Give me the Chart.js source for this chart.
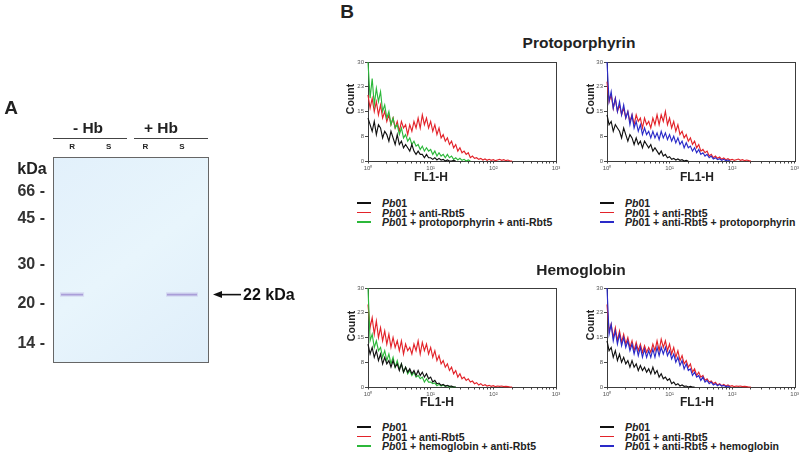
<!DOCTYPE html>
<html>
<head>
<meta charset="utf-8">
<script src="https://cdn.jsdelivr.net/npm/chart.js@4.4.1/dist/chart.umd.min.js"></script>
<style>
  html, body { margin: 0; padding: 0; background: #fff; width: 800px; height: 461px; overflow: hidden; }
  body { position: relative; font-family: "Liberation Sans", Arial, sans-serif; color: #222; }
  canvas { position: absolute; }
  .lbl { position: absolute; white-space: nowrap; font-weight: bold; line-height: 1; transform: translate(-50%, -50%); }
  .legend { position: absolute; font-weight: bold; font-size: 10.5px; }
  .legend div { display: flex; align-items: center; height: 9.7px; white-space: nowrap; }
  .legend .sw { display: inline-block; width: 14px; height: 1.5px; margin-right: 11px; }
  .hdr { position: absolute; border-top: 1.5px solid #444; height: 0; }
</style>
</head>
<body>
<canvas id="gel" width="320" height="260" style="left:0;top:120px"></canvas>
<canvas id="tl" width="225" height="120" style="left:340px;top:52px"></canvas>
<canvas id="tr" width="221" height="120" style="left:579px;top:52px"></canvas>
<canvas id="bl" width="225" height="120" style="left:340px;top:278px"></canvas>
<canvas id="br" width="221" height="120" style="left:579px;top:278px"></canvas>
<div class="hdr" style="left:53px;top:138px;width:74px"></div>
<div class="hdr" style="left:134px;top:138px;width:74px"></div>
<script>
// ---- panel A: gel ----
const laneIdx = [0, 1, 2, 3];
const laneLabels = ['R', 'S', 'R', 'S'];
const groupLabels = ['- Hb', '+ Hb'];
const markerKda = ['66', '45', '30', '20', '14'];
const markerRf = [0.170, 0.298, 0.523, 0.714, 0.909];
const bandLanes = [0, 3];
const bandRf = 0.670;
const bandLabel = '22 kDa';

// ---- panel B: FL1-H histograms ----
const panelTitles = ['Protoporphyrin', 'Hemoglobin'];
const fl1Bins = [1.000, 1.080, 1.166, 1.259, 1.359, 1.468, 1.585, 1.711, 1.848, 1.995,
  2.154, 2.326, 2.512, 2.712, 2.929, 3.162, 3.415, 3.687, 3.981, 4.299,
  4.642, 5.012, 5.412, 5.843, 6.310, 6.813, 7.356, 7.943, 8.577, 9.261,
  10.00, 10.80, 11.66, 12.59, 13.59, 14.68, 15.85, 17.11, 18.48, 19.95,
  21.54, 23.26, 25.12, 27.12, 29.29, 31.62, 34.15, 36.87, 39.81, 42.99,
  46.42, 50.12, 54.12, 58.43, 63.10, 68.13, 73.56, 79.43, 85.77, 92.61,
  100.0, 108.0, 116.6, 125.9, 135.9, 146.8, 158.5, 171.1, 184.8, 199.5];
const yTickVals = [0, 7.5, 15, 22.5, 30];
const yTickLabels = ['0', '8', '15', '23', '30'];
const xTickVals = [1, 10, 100, 1000];
const xTickLabels = ['10⁰', '10¹', '10²', '10³'];

// protoporphyrin, left
const tlBlack = [13, 11, 9, 12, 8, 11, 10, 7, 9, 8,
  6, 9, 7, 5, 8, 5, 6, 4, 5, 4,
  3, 5, 3, 2, 3, 2, 2, 1, 2, 1,
  1, 0.5, 1, 0.3, 0.8, 0.3, 0.5, 0, 0.3, 0,
  0, 0.2, 0];
const tlRed = [20, 16, 19, 15, 18, 14, 17, 13, 15, 12,
  14, 11, 13, 10, 12, 9, 12, 10, 11, 8,
  11, 9, 12, 10, 13, 10, 14, 11, 13, 10,
  12, 9, 11, 8, 10, 7, 8, 6, 7, 5,
  6, 4, 5, 3, 4, 2.5, 3, 2, 2.5, 1,
  1.5, 0.8, 1, 0.5, 0.8, 0.3, 0.6, 0.2, 0.5, 0.2,
  0.4, 0.1, 0.3, 0.5, 0.2, 0.4, 0.1, 0.3, 0, 0];
const tlGreen = [30, 19, 25, 17, 22, 18, 21, 15, 17, 13,
  15, 11, 13, 10, 11, 8, 10, 7, 8, 6,
  7, 5, 6, 4.5, 5, 3.5, 4.5, 3, 4, 3,
  3.5, 2, 3, 1.5, 2.5, 1.5, 2, 1, 2, 1,
  1.5, 0.5, 1, 0.3, 0.8, 0.2, 0.5, 0, 0.3, 0];

// protoporphyrin, right
const trBlack = [14, 11, 12, 9, 11, 10, 9, 7, 10, 8,
  6, 8, 7, 5, 7, 5, 6, 4, 6, 5,
  4, 5, 3, 4, 3, 2, 3, 1.5, 2, 1,
  1.3, 0.5, 0.8, 0.3, 0.6, 0.2, 0.4, 0, 0.2, 0];
const trRed = [24, 18, 20, 16, 19, 15, 17, 14, 16, 13,
  15, 12, 14, 11, 14, 12, 13, 10, 13, 11,
  12, 10, 13, 11, 14, 11, 14, 12, 15, 11,
  13, 10, 12, 9, 11, 8, 9, 7, 8, 6,
  7, 5, 6, 4, 5, 3, 3.5, 2.5, 3, 1.5,
  2, 1, 1.5, 0.8, 1.2, 0.5, 0.9, 0.4, 0.7, 0.3,
  0.5, 0.2, 0.4, 0.6, 0.2, 0.4, 0.1, 0.3, 0.1, 0];
const trBlue = [30, 18, 21, 16, 19, 15, 18, 14, 17, 13,
  15, 11, 14, 10, 12, 9, 11, 8, 10, 8,
  9, 7, 9, 7, 8.5, 6.5, 9, 7, 8.5, 6.5,
  8, 6, 7.5, 5.5, 7, 5, 6, 4, 5.5, 4,
  4.5, 3, 4, 2.5, 3.5, 2, 2.5, 1.5, 2, 1,
  1.5, 0.6, 1, 0.4, 0.7, 0.2, 0.5, 0.1, 0.3, 0];

// hemoglobin, left
const blBlack = [13, 10, 12, 9, 11, 8, 10, 7, 9, 7,
  8, 6, 8, 6, 7, 5, 7, 4.5, 6, 4.5,
  5.5, 4, 5, 3.5, 5, 3.5, 4.5, 3, 4, 2.5,
  3, 1.5, 2, 1, 1.2, 0.5, 0.8, 0.3, 0.5, 0.2,
  0.3, 0, 0];
const blRed = [25, 18, 21, 16, 20, 15, 18, 14, 17, 13,
  16, 12, 15, 12, 14, 11, 14, 10, 13, 11,
  12, 10, 13, 11, 14, 10, 13.5, 11, 13, 10,
  12, 9, 11, 8, 9.5, 7, 8, 6, 7, 5,
  6, 4, 5, 3, 4, 2.5, 3, 2, 2.5, 1.5,
  1.8, 1, 1.3, 0.6, 1, 0.4, 0.7, 0.3, 0.5, 0.2,
  0.4, 0.1, 0.3, 0.2, 0.3, 0.1, 0.2, 0.1, 0, 0];
const blGreen = [30, 14, 16, 12, 14, 11, 12, 9, 11, 8,
  10, 7, 9, 6, 8, 5.5, 7, 4.5, 6, 4,
  5, 3.5, 4.5, 3, 3.5, 2.5, 3, 1.5, 2.5, 1.5,
  1.5, 1, 1.2, 0.4, 0.8, 0.3, 0.6, 0.2, 0.4, 0,
  0.2, 0, 0];

// hemoglobin, right
const brBlack = [14, 11, 12, 9, 11, 8, 10, 7.5, 9, 7,
  8, 6, 8, 6, 7, 5, 6.5, 5, 6, 4.5,
  5.5, 4, 6, 4, 5, 3, 4, 2.5, 3, 2,
  2.5, 1, 1.5, 0.6, 1, 0.3, 0.6, 0.2, 0.3, 0,
  0.2, 0, 0];
const brRed = [25, 17, 19, 15, 18, 14, 17, 13.5, 16, 13,
  15, 12, 14, 11, 13.5, 11, 13, 10.5, 12.5, 10.5,
  12, 10.5, 13, 11, 14, 11, 14.5, 12, 14, 11,
  13, 10, 12, 9, 11, 8, 9.5, 7, 8, 6,
  7, 4.5, 5.5, 3.5, 4.5, 3, 3.5, 2, 2.5, 1.5,
  1.8, 1, 1.4, 0.6, 1, 0.4, 0.8, 0.3, 0.6, 0.2,
  0.4, 0.1, 0.3, 0.2, 0.3, 0.1, 0.2, 0.1, 0, 0];
const brBlue = [30, 16, 19, 14, 17, 13, 16, 12.5, 15, 12,
  14, 11, 13, 10, 12.5, 9.5, 12, 9, 11.5, 9,
  11, 9, 11.5, 9, 12, 9.5, 12, 10, 12, 9.5,
  11, 8.5, 10, 7.5, 9, 6.5, 8, 5.5, 7, 5,
  5.5, 3.5, 4.5, 3, 3.5, 2, 3, 1.5, 2, 1,
  1.5, 0.6, 1, 0.4, 0.8, 0.3, 0.5, 0.1, 0.3, 0];

const tlNames = ['Pb01', 'Pb01 + anti-Rbt5', 'Pb01 + protoporphyrin + anti-Rbt5'];
const trNames = ['Pb01', 'Pb01 + anti-Rbt5', 'Pb01 + anti-Rbt5 + protoporphyrin'];
const blNames = ['Pb01', 'Pb01 + anti-Rbt5', 'Pb01 + hemoglobin + anti-Rbt5'];
const brNames = ['Pb01', 'Pb01 + anti-Rbt5', 'Pb01 + anti-Rbt5 + hemoglobin'];

const BLACK = '#111111', RED = '#e3232a', GREEN = '#2cb83a', BLUE = '#2a2ac8';

Chart.defaults.font.family = '"Liberation Sans", Arial, sans-serif';

function addText(html, cx, cy, size, rotate) {
    const d = document.createElement('div');
    d.className = 'lbl';
    d.style.left = cx + 'px';
    d.style.top = cy + 'px';
    d.style.fontSize = size + 'px';
    if (rotate) d.style.transform = 'translate(-50%, -50%) rotate(-90deg)';
    d.innerHTML = html;
    document.body.appendChild(d);
}

function addLegend(names, colors, left, top) {
    const el = document.createElement('div');
    el.className = 'legend';
    el.style.left = left + 'px';
    el.style.top = top + 'px';
    el.innerHTML = names.map((n, i) =>
        `<div><span class="sw" style="background:${colors[i]}"></span>${n.replace(/^Pb/, '<i>Pb</i>')}</div>`).join('');
    document.body.appendChild(el);
}

// gel background, border and the arrow pointing at the band
const gelDecor = {
    id: 'gelDecor',
    beforeDatasetsDraw(chart) {
        const a = chart.chartArea, c = chart.ctx;
        const g = c.createLinearGradient(a.left, a.top, a.right, a.bottom);
        g.addColorStop(0, '#e2f0fb');
        g.addColorStop(0.5, '#e8f5fc');
        g.addColorStop(1, '#dfeefa');
        c.save();
        c.fillStyle = g;
        c.fillRect(a.left, a.top, a.right - a.left, a.bottom - a.top);
        c.restore();
    },
    afterDraw(chart) {
        const a = chart.chartArea, c = chart.ctx;
        c.save();
        c.strokeStyle = '#666';
        c.lineWidth = 1;
        c.strokeRect(Math.round(a.left) + 0.5, Math.round(a.top) + 0.5, Math.round(a.right - a.left), Math.round(a.bottom - a.top));
        const y = chart.scales.y.getPixelForValue(bandRf);
        const x0 = a.right + 5;
        c.strokeStyle = '#111';
        c.fillStyle = '#111';
        c.lineWidth = 1.6;
        c.beginPath();
        c.moveTo(x0 + 6, y);
        c.lineTo(x0 + 28, y);
        c.stroke();
        c.beginPath();
        c.moveTo(x0, y);
        c.lineTo(x0 + 9, y - 3.5);
        c.lineTo(x0 + 9, y + 3.5);
        c.closePath();
        c.fill();
        c.font = 'bold 16px "Liberation Sans", Arial, sans-serif';
        c.textBaseline = 'middle';
        c.fillText(bandLabel, x0 + 30, y + 1);
        c.restore();
    },
};

const bandPoints = bandLanes.map(l => ({ x: l, y: bandRf }));

new Chart(document.getElementById('gel'), {
    type: 'scatter',
    data: {
        datasets: [{
            data: bandPoints,
            pointStyle: 'line',
            pointRadius: ctx => ctx.dataIndex === 0 ? 11 : 15,
            pointBorderWidth: 1.6,
            pointBorderColor: 'rgba(140,118,200,0.6)',
            borderColor: 'rgba(140,118,200,0.6)',
        }, {
            data: bandPoints,
            pointStyle: 'line',
            pointRadius: ctx => ctx.dataIndex === 0 ? 12 : 16,
            pointBorderWidth: 4.5,
            pointBorderColor: 'rgba(175,160,220,0.3)',
            borderColor: 'rgba(175,160,220,0.3)',
        }],
    },
    options: {
        responsive: false,
        animation: false,
        devicePixelRatio: 1,
        events: [],
        layout: { autoPadding: false, padding: { left: 0, top: 0, right: 112, bottom: 8 } },
        plugins: { legend: { display: false }, tooltip: { enabled: false } },
        scales: {
            x: {
                type: 'linear', position: 'top', min: -0.52, max: 3.71,
                afterBuildTicks: s => { s.ticks = laneIdx.map(v => ({ value: v })); },
                afterFit: s => { s.height = 37; },
                grid: { display: false, drawTicks: false },
                border: { display: false },
                ticks: { padding: 5, autoSkip: false, maxRotation: 0, color: '#222',
                    font: { size: 8, weight: 'bold' },
                    callback: (v, i) => laneLabels[i] },
            },
            y: {
                type: 'linear', reverse: true, min: 0, max: 1,
                afterBuildTicks: s => { s.ticks = markerRf.map(v => ({ value: v })); },
                afterFit: s => { s.width = 53; },
                grid: { display: false, drawTicks: false },
                border: { display: false },
                ticks: { padding: 8, autoSkip: false, color: '#333',
                    font: { size: 16, weight: 'bold' },
                    callback: (v, i) => markerKda[i] + ' -' },
            },
        },
    },
    plugins: [gelDecor],
});

// histogram frame
const frame = {
    id: 'frame',
    beforeDatasetsDraw(chart) {
        const a = chart.chartArea, c = chart.ctx;
        c.save();
        c.strokeStyle = '#3c3c3c';
        c.lineWidth = 1;
        c.strokeRect(Math.round(a.left) + 0.5, Math.round(a.top) + 0.5, Math.round(a.right - a.left), Math.round(a.bottom - a.top));
        c.restore();
    },
};

const logTicks = [];
[1, 10, 100].forEach(d => { for (let m = 1; m < 10; m++) logTicks.push(m * d); });
logTicks.push(1000);

function histChart(id, series, names, colors, padRight) {
    return new Chart(document.getElementById(id), {
        type: 'line',
        data: {
            datasets: series.map((vals, i) => ({
                label: names[i],
                data: vals.map((v, k) => ({ x: fl1Bins[k], y: v })),
                borderColor: colors[i],
                borderWidth: 1.15,
                pointRadius: 0,
                tension: 0,
                fill: false,
                clip: 2,
                order: [0, 2, 1][i],
            })),
        },
        options: {
            responsive: false,
            animation: false,
            devicePixelRatio: 1,
            events: [],
            layout: { autoPadding: false, padding: { left: 0, top: 10, right: padRight, bottom: 0 } },
            plugins: { legend: { display: false }, tooltip: { enabled: false } },
            scales: {
                x: {
                    type: 'logarithmic', min: 1, max: 1000,
                    afterBuildTicks: s => { s.ticks = logTicks.map(v => ({ value: v })); },
                    afterFit: s => { s.height = 11; },
                    grid: { drawOnChartArea: false, tickLength: 2.5, color: '#444' },
                    border: { display: false },
                    ticks: { padding: 1, autoSkip: false, maxRotation: 0, color: '#555',
                        font: { size: 6 },
                        callback: v => { const i = xTickVals.indexOf(v); return i >= 0 ? xTickLabels[i] : ''; } },
                },
                y: {
                    type: 'linear', min: 0, max: 30,
                    afterBuildTicks: s => { s.ticks = yTickVals.map(v => ({ value: v })); },
                    afterFit: s => { s.width = 28; },
                    grid: { drawOnChartArea: false, tickLength: 3, color: '#444' },
                    border: { display: false },
                    ticks: { padding: 1, autoSkip: false, color: '#555',
                        font: { size: 6 },
                        callback: v => yTickLabels[yTickVals.indexOf(v)] },
                },
            },
        },
        plugins: [frame],
    });
}

const tlColors = [BLACK, RED, GREEN], trColors = [BLACK, RED, BLUE];
histChart('tl', [tlBlack, tlRed, tlGreen], tlNames, tlColors, 9);
histChart('tr', [trBlack, trRed, trBlue], trNames, trColors, 5);
histChart('bl', [blBlack, blRed, blGreen], blNames, tlColors, 9);
histChart('br', [brBlack, brRed, brBlue], brNames, trColors, 5);

// labels
addText('A', 11, 107, 19);
addText('B', 347, 11, 19);
addText(groupLabels[0], 88, 128, 15.5);
addText(groupLabels[1], 161, 128, 15.5);
addText('kDa', 32, 169, 16);
addText(panelTitles[0], 579, 43, 15.5);
addText(panelTitles[1], 581, 270, 15.5);
[[350, 99], [590, 99], [351, 326], [590, 325]].forEach(p => addText('Count', p[0], p[1], 10.5, true));
[[431, 177], [697, 177], [437, 402], [697, 402]].forEach(p => addText('FL1-H', p[0], p[1], 12));

addLegend(tlNames, tlColors, 357, 198);
addLegend(trNames, trColors, 600, 198);
addLegend(blNames, tlColors, 357, 422);
addLegend(brNames, trColors, 600, 422);
</script>
</body>
</html>
